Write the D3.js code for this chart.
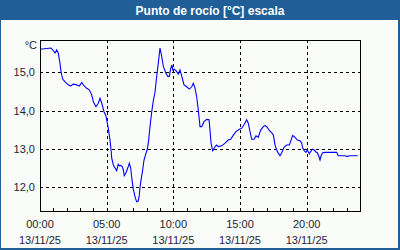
<!DOCTYPE html>
<html>
<head>
<meta charset="utf-8">
<script src="https://cdn.jsdelivr.net/npm/d3@7"></script>
<style>
  html, body { margin: 0; padding: 0; background: #fff; }
  svg { display: block; font-family: "Liberation Sans", Arial, sans-serif; }
</style>
</head>
<body>
<svg id="chart" width="400" height="250"></svg>
<script>
// Dew point readings, hour offset from 13/11/25 00:00
const hours = [
    0, 0.83, 1.0, 1.13, 1.25, 1.37, 1.5, 1.58, 1.7, 1.88, 2.12, 2.3, 2.5, 2.75, 2.95, 3.13, 3.25, 3.5, 3.7, 3.88,
    4.0, 4.2, 4.37, 4.5, 4.63, 4.8, 4.95, 5.0, 5.12, 5.25, 5.33, 5.38, 5.5, 5.63, 5.75, 5.87, 5.95, 6.05, 6.17, 6.25,
    6.32, 6.45, 6.58, 6.7, 6.8, 6.9, 7.0, 7.13, 7.25, 7.37, 7.45, 7.5, 7.58, 7.7, 7.8, 7.95, 8.05, 8.15, 8.25, 8.38,
    8.5, 8.63, 8.75, 8.87, 9.0, 9.13, 9.25, 9.45, 9.58, 9.7, 9.8, 9.9, 9.95, 10.07, 10.2, 10.37, 10.5, 10.63, 10.8, 11.0,
    11.2, 11.38, 11.5, 11.63, 11.75, 11.87, 12.0, 12.13, 12.3, 12.5, 12.68, 12.75, 12.83, 12.95, 13.13, 13.25, 13.37, 13.63, 13.88, 14.12,
    14.3, 14.5, 14.7, 14.95, 15.13, 15.3, 15.5, 15.62, 15.75, 15.88, 16.05, 16.2, 16.37, 16.55, 16.75, 16.88, 17.05, 17.2, 17.38, 17.5,
    17.63, 17.75, 17.87, 18.0, 18.13, 18.3, 18.5, 18.7, 18.83, 18.95, 19.13, 19.3, 19.5, 19.63, 19.7, 19.83, 19.95, 20.05, 20.2, 20.3,
    20.42, 20.57, 20.7, 20.8, 20.9, 21.0, 21.08, 21.2, 21.38, 22.25, 22.37, 22.88, 23.05, 23.2, 23.83
];
const dewPoint = [
    15.6, 15.63, 15.56, 15.5, 15.58, 15.5, 15.23, 15.0, 14.82, 14.75, 14.67, 14.64, 14.69, 14.67, 14.64, 14.73, 14.67, 14.58, 14.54, 14.41,
    14.23, 14.1, 14.19, 14.32, 14.19, 13.97, 13.86, 13.76, 13.54, 13.23, 12.97, 12.76, 12.58, 12.5, 12.43, 12.6, 12.56, 12.57, 12.54, 12.45,
    12.3, 12.38, 12.5, 12.63, 12.5, 12.19, 11.95, 11.75, 11.62, 11.64, 11.8, 12.0, 12.19, 12.45, 12.71, 12.89, 12.99, 13.23, 13.58, 13.97,
    14.26, 14.49, 14.88, 15.23, 15.63, 15.41, 15.15, 14.97, 14.89, 14.89, 15.1, 15.19, 15.06, 15.08, 15.04, 14.95, 15.06, 14.9, 14.67, 14.62,
    14.56, 14.62, 14.71, 14.58, 14.36, 14.02, 13.58, 13.58, 13.71, 13.77, 13.76, 13.49, 13.15, 12.95, 13.06, 13.1, 13.06, 13.08, 13.15, 13.23,
    13.25, 13.36, 13.45, 13.51, 13.54, 13.63, 13.76, 13.67, 13.45, 13.25, 13.25, 13.34, 13.3, 13.49, 13.58, 13.61, 13.56, 13.48, 13.42, 13.36,
    13.1, 12.97, 12.89, 12.82, 12.9, 13.04, 13.1, 13.1, 13.23, 13.35, 13.3, 13.23, 13.21, 13.15, 13.02, 12.95, 12.91, 12.97, 12.87, 12.93,
    12.99, 12.97, 12.92, 12.9, 12.82, 12.71, 12.82, 12.9, 12.91, 12.91, 12.82, 12.82, 12.8, 12.82, 12.82
];
const yTicks = [12, 13, 14, 15];
const xTicks = [0, 5, 10, 15, 20];
const xTimeLabels = ["00:00", "05:00", "10:00", "15:00", "20:00"];
const dateLabel = "13/11/25";
const title = "Punto de rocío [°C] escala";

const svg = d3.select("#chart");
const plotLeft = 40, plotRight = 360, plotTop = 40, plotBottom = 211;
const textColor = "#1c1c38";

// frame + title bar
svg.append("rect").attr("width", 400).attr("height", 250).attr("fill", "#1f5e96");
svg.append("rect").attr("x", 1).attr("y", 20).attr("width", 397).attr("height", 228).attr("fill", "#fafcfa");
svg.append("text")
    .attr("x", 210).attr("y", 15)
    .attr("text-anchor", "middle")
    .attr("fill", "#fff")
    .style("font-size", "12px")
    .style("font-weight", "bold")
    .text(title);

const x = d3.scaleLinear().domain([0, 24]).range([plotLeft, plotRight]);
const y = d3.scaleLinear().domain([11.38, 15.84]).range([plotBottom, plotTop]);

// grid
const grid = svg.append("g")
    .attr("stroke", "#000")
    .attr("stroke-dasharray", "3,3")
    .attr("shape-rendering", "crispEdges");
grid.selectAll(".hg").data(yTicks).enter().append("line")
    .attr("x1", plotLeft).attr("x2", plotRight)
    .attr("y1", d => Math.round(y(d)) + 0.5).attr("y2", d => Math.round(y(d)) + 0.5);
grid.selectAll(".vg").data(xTicks.slice(1)).enter().append("line")
    .attr("y1", plotTop).attr("y2", plotBottom)
    .attr("x1", d => Math.round(x(d)) + 0.5).attr("x2", d => Math.round(x(d)) + 0.5);

// hourly ticks
svg.append("g")
    .attr("stroke", "#000")
    .attr("shape-rendering", "crispEdges")
    .selectAll("line").data(d3.range(0, 25)).enter().append("line")
    .attr("x1", d => Math.round(x(d)) + 0.5).attr("x2", d => Math.round(x(d)) + 0.5)
    .attr("y1", plotBottom - 3).attr("y2", plotBottom);

// the line
const line = d3.line().x((d, i) => x(hours[i])).y(d => y(d));
svg.append("path")
    .datum(dewPoint)
    .attr("d", line)
    .attr("fill", "none")
    .attr("stroke", "#0000ff")
    .attr("stroke-width", 1.1);

// plot box
svg.append("rect")
    .attr("x", plotLeft + 0.5).attr("y", plotTop + 0.5)
    .attr("width", plotRight - plotLeft).attr("height", plotBottom - plotTop)
    .attr("fill", "none").attr("stroke", "#000")
    .attr("shape-rendering", "crispEdges");

// y labels
svg.selectAll(".yl").data(yTicks).enter().append("text")
    .attr("x", 35).attr("y", d => y(d) + 4)
    .attr("text-anchor", "end")
    .attr("fill", textColor)
    .style("font-size", "11px")
    .text(d => d.toFixed(1).replace(".", ","));
svg.append("text")
    .attr("x", 37).attr("y", 49)
    .attr("text-anchor", "end")
    .attr("fill", textColor)
    .style("font-size", "11px")
    .text("°C");

// x labels
svg.selectAll(".xl").data(xTicks).enter().append("text")
    .attr("x", d => x(d)).attr("y", 228)
    .attr("text-anchor", "middle")
    .attr("fill", textColor)
    .style("font-size", "11px")
    .text((d, i) => xTimeLabels[i]);
svg.selectAll(".xd").data(xTicks).enter().append("text")
    .attr("x", d => x(d)).attr("y", 244)
    .attr("text-anchor", "middle")
    .attr("fill", textColor)
    .style("font-size", "11px")
    .text(dateLabel);
</script>
</body>
</html>
